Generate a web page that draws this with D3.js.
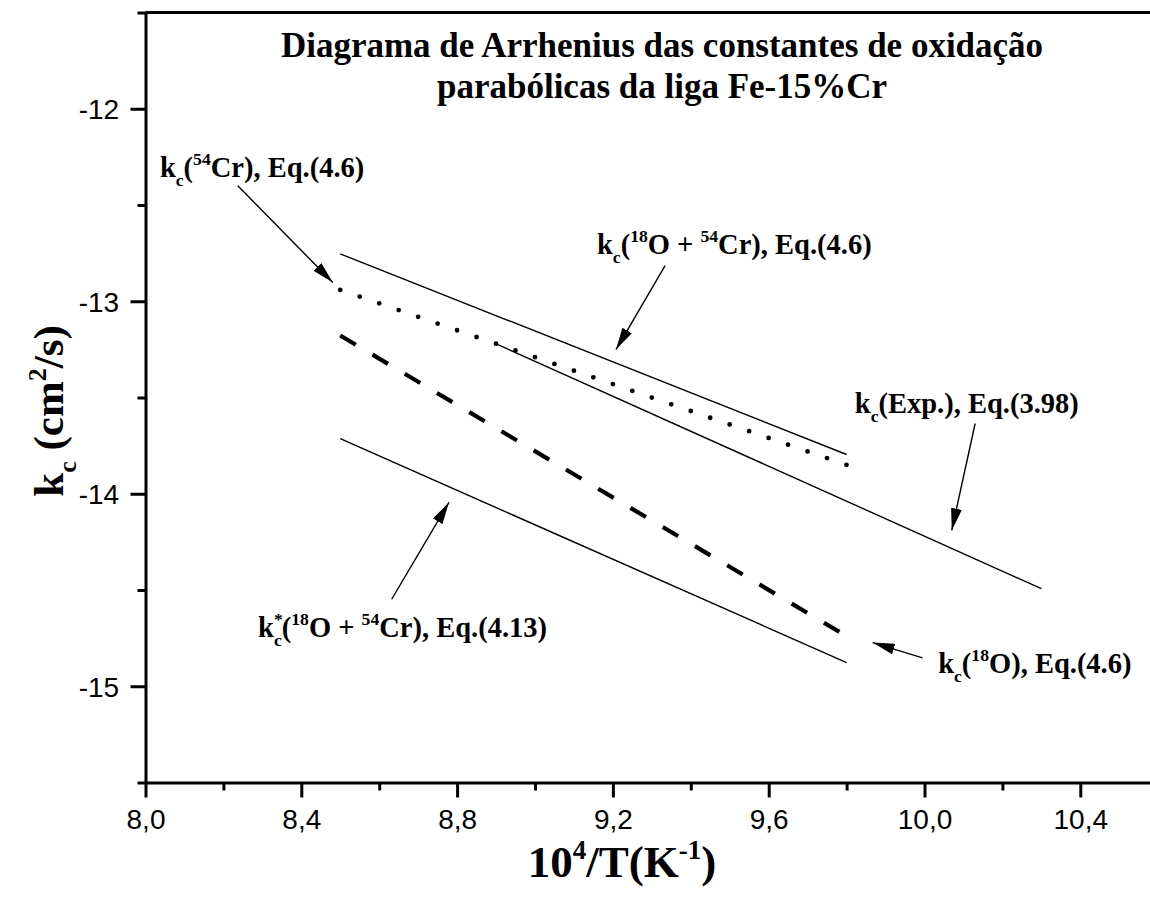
<!DOCTYPE html>
<html>
<head>
<meta charset="utf-8">
<script src="https://cdn.jsdelivr.net/npm/d3@7"></script>
<style>
  html, body { margin: 0; padding: 0; background: #fff; }
  svg { display: block; }
</style>
</head>
<body>
<svg id="chart" width="1150" height="905"></svg>
<script>
// Axis ticks
const xTicks = [8.0, 8.4, 8.8, 9.2, 9.6, 10.0, 10.4];
const xMinorTicks = [8.2, 8.6, 9.0, 9.4, 9.8, 10.2, 10.6];
const yTicks = [-15, -14, -13, -12];
const yMinorTicks = [-15.5, -14.5, -13.5, -12.5, -11.5];

// 10^4/T values for the computed lines and the experimental fit
const invT = [8.5, 9.8];
const invTExp = [8.9, 10.3];

// log10 kc for each line
const kcOCr = [-12.754, -13.796];     // kc(18O + 54Cr), Eq.(4.6)
const kcCr = [-12.941, -13.850];      // kc(54Cr), Eq.(4.6)
const kcO = [-13.178, -14.740];       // kc(18O), Eq.(4.6)
const kcStar = [-13.714, -14.877];    // kc*(18O + 54Cr), Eq.(4.13)
const kcExp = [-13.221, -14.493];     // kc(Exp.), Eq.(3.98)

const svg = d3.select("#chart");
const x = d3.scaleLinear().domain([8.0, 10.6]).range([145.5, 1158.2]);
const y = d3.scaleLinear().domain([-15.5, -11.5]).range([782.5, 12.5]);

const serif = "'Liberation Serif', 'Times New Roman', serif";
const sans = "'Liberation Sans', Arial, sans-serif";

// Frame line along the top
svg.append("line")
  .attr("x1", x(8.0)).attr("x2", x(10.6))
  .attr("y1", y(-11.5)).attr("y2", y(-11.5))
  .attr("stroke", "#000").attr("stroke-width", 3);

// Bottom axis
const xAxis = svg.append("g").attr("transform", `translate(0,${y(-15.5)})`)
  .call(d3.axisBottom(x).tickValues(xTicks).tickSize(15).tickSizeOuter(0)
    .tickFormat(d => d3.format(".1f")(d).replace(".", ",")));
svg.append("g").attr("transform", `translate(0,${y(-15.5)})`)
  .call(d3.axisBottom(x).tickValues(xMinorTicks).tickSize(8).tickSizeOuter(0).tickFormat(""))
  .select(".domain").remove();

// Left axis
const yAxis = svg.append("g").attr("transform", `translate(${x(8.0)},0)`)
  .call(d3.axisLeft(y).tickValues(yTicks).tickSize(15).tickSizeOuter(0).tickFormat(d3.format("d")));
svg.append("g").attr("transform", `translate(${x(8.0)},0)`)
  .call(d3.axisLeft(y).tickValues(yMinorTicks).tickSize(8).tickSizeOuter(0).tickFormat(""))
  .select(".domain").remove();

svg.selectAll(".domain").attr("stroke-width", 3);
svg.selectAll(".tick line").attr("stroke-width", 3);
xAxis.selectAll(".tick text").attr("font-family", sans).attr("font-size", 28).attr("dy", "1.0em").attr("fill", "#000");
yAxis.selectAll(".tick text").attr("font-family", sans).attr("font-size", 28).attr("dx", "-0.3em").attr("dy", "0.36em").attr("fill", "#000");
yAxis.selectAll(".tick text").text(d => d < 0 ? "-" + Math.abs(d) : d);

// Lines
const line = d3.line().x(d => x(d[0])).y(d => y(d[1]));
const zip = (xs, ys) => xs.map((v, i) => [v, ys[i]]);

svg.append("path").datum(zip(invT, kcOCr)).attr("d", line)
  .attr("fill", "none").attr("stroke", "#000").attr("stroke-width", 1.4);
svg.append("path").datum(zip(invT, kcCr)).attr("d", line)
  .attr("fill", "none").attr("stroke", "#000").attr("stroke-width", 4.8)
  .attr("stroke-linecap", "round").attr("stroke-dasharray", "0,20.6");
svg.append("path").datum(zip(invT, kcO)).attr("d", line)
  .attr("fill", "none").attr("stroke", "#000").attr("stroke-width", 4.2)
  .attr("stroke-dasharray", "18,19.5");
svg.append("path").datum(zip(invT, kcStar)).attr("d", line)
  .attr("fill", "none").attr("stroke", "#000").attr("stroke-width", 1.4);
svg.append("path").datum(zip(invTExp, kcExp)).attr("d", line)
  .attr("fill", "none").attr("stroke", "#000").attr("stroke-width", 1.4);

// Arrowhead marker
svg.append("defs").append("marker")
  .attr("id", "head").attr("viewBox", "0 0 22 11")
  .attr("refX", 22).attr("refY", 5.5)
  .attr("markerWidth", 22).attr("markerHeight", 11)
  .attr("markerUnits", "userSpaceOnUse").attr("orient", "auto")
  .append("path").attr("d", "M0,0 L22,5.5 L0,11 Z").attr("fill", "#000");

// Rich text with sub/superscripts
function richText(px, py, parts, size) {
  const t = svg.append("text").attr("x", px).attr("y", py)
    .attr("font-family", serif).attr("font-weight", "bold").attr("font-size", size).attr("fill", "#000");
  let shift = 0;
  parts.forEach(([s, kind]) => {
    let target = 0, fs = size;
    if (kind === "sub") { target = 0.32 * size; fs = 0.62 * size; }
    if (kind === "sup") { target = -0.42 * size; fs = 0.62 * size; }
    t.append("tspan").attr("font-size", fs).attr("dy", target - shift).text(s);
    shift = target;
  });
  return t;
}
function richTextStack(px, py, before, supS, subS, after, size) {
  const t = svg.append("text").attr("x", px).attr("y", py)
    .attr("font-family", serif).attr("font-weight", "bold").attr("font-size", size).attr("fill", "#000");
  t.append("tspan").text(before);
  const sup = t.append("tspan").attr("font-size", 0.62 * size).attr("dy", -0.42 * size).text(supS);
  const w = sup.node().getComputedTextLength();
  t.append("tspan").attr("font-size", 0.62 * size).attr("dx", -w).attr("dy", 0.74 * size).text(subS);
  let shift = 0.32 * size;
  after.forEach(([s, kind]) => {
    let target = 0, fs = size;
    if (kind === "sup") { target = -0.42 * size; fs = 0.62 * size; }
    t.append("tspan").attr("font-size", fs).attr("dy", target - shift).text(s);
    shift = target;
  });
  return t;
}

function arrow(x1, y1, x2, y2) {
  svg.append("line")
    .attr("x1", x(x1)).attr("y1", y(y1)).attr("x2", x(x2)).attr("y2", y(y2))
    .attr("stroke", "#000").attr("stroke-width", 1.4).attr("marker-end", "url(#head)");
}

const labelSize = 28.5;
richText(x(8.037), y(-12.353), [["k"], ["c", "sub"], ["("], ["54", "sup"], ["Cr), Eq.(4.6)"]], labelSize);
arrow(8.237, -12.40, 8.481, -12.903);

richText(x(9.159), y(-12.753), [["k"], ["c", "sub"], ["("], ["18", "sup"], ["O + "], ["54", "sup"], ["Cr), Eq.(4.6)"]], labelSize);
arrow(9.334, -12.815, 9.208, -13.251);

richText(x(9.821), y(-13.578), [["k"], ["c", "sub"], ["(Exp.), Eq.(3.98)"]], labelSize);
arrow(10.130, -13.635, 10.070, -14.190);

richText(x(10.035), y(-14.932), [["k"], ["c", "sub"], ["("], ["18", "sup"], ["O), Eq.(4.6)"]], labelSize);
arrow(9.995, -14.853, 9.867, -14.773);

richTextStack(x(8.289), y(-14.746), "k", "*", "c", [["("], ["18", "sup"], ["O + "], ["54", "sup"], ["Cr), Eq.(4.13)"]], labelSize);
arrow(8.632, -14.548, 8.779, -14.045);

// Title
const title = svg.append("text").attr("text-anchor", "middle")
  .attr("font-family", serif).attr("font-weight", "bold").attr("font-size", 35).attr("fill", "#000");
title.append("tspan").attr("x", 662).attr("y", 57).text("Diagrama de Arrhenius das constantes de oxidação");
title.append("tspan").attr("x", 662).attr("y", 98).text("parabólicas da liga Fe-15%Cr");

// Axis titles
const xt = svg.append("text").attr("x", 622).attr("y", 877).attr("text-anchor", "middle")
  .attr("font-family", serif).attr("font-weight", "bold").attr("font-size", 45).attr("fill", "#000");
xt.append("tspan").text("10");
xt.append("tspan").attr("font-size", 27).attr("dy", -18).text("4");
xt.append("tspan").attr("dy", 18).text("/T(K");
xt.append("tspan").attr("font-size", 27).attr("dy", -18).text("-1");
xt.append("tspan").attr("dy", 18).text(")");

const yt = svg.append("text").attr("transform", "translate(63,411) rotate(-90)").attr("text-anchor", "middle")
  .attr("font-family", serif).attr("font-weight", "bold").attr("font-size", 43).attr("fill", "#000");
yt.append("tspan").text("k");
yt.append("tspan").attr("font-size", 26).attr("dy", 13).text("c");
yt.append("tspan").attr("dy", -13).text(" (cm");
yt.append("tspan").attr("font-size", 26).attr("dy", -17).text("2");
yt.append("tspan").attr("dy", 17).text("/s)");
</script>
</body>
</html>
